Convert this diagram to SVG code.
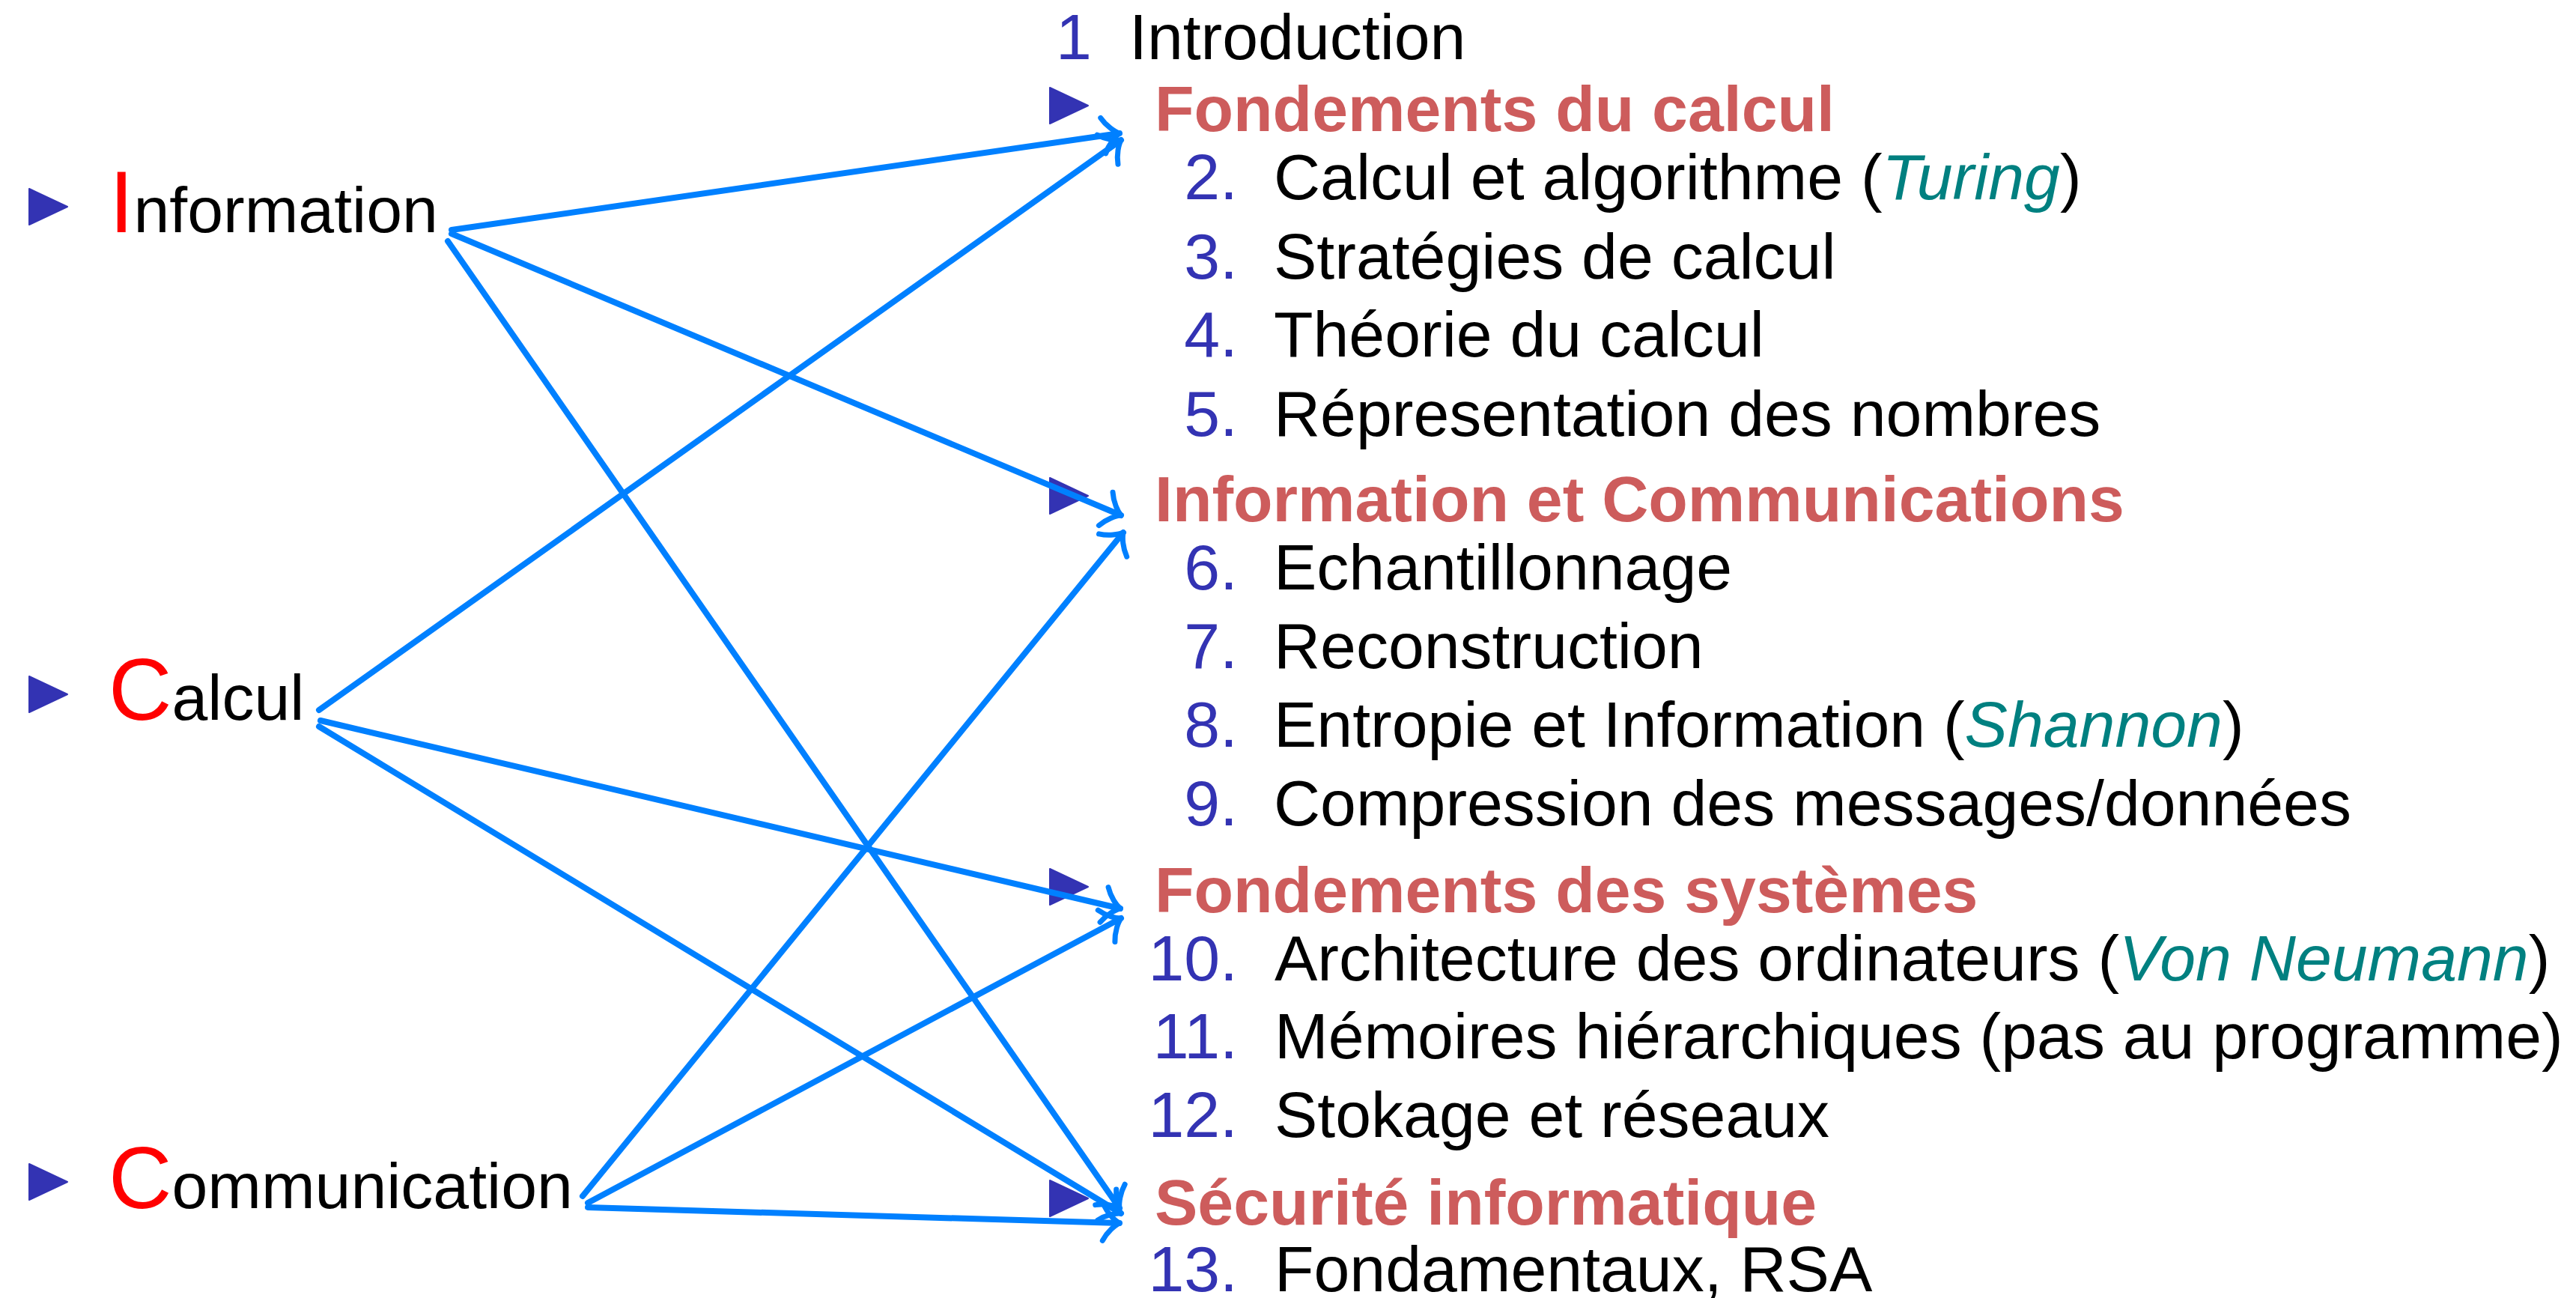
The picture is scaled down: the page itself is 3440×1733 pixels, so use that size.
<svg xmlns="http://www.w3.org/2000/svg" width="3440" height="1733" viewBox="0 0 3440 1733">
<style>
text{font-family:"Liberation Sans",Arial,Helvetica,sans-serif;font-size:86px;fill:#000}
.num{fill:#3333B3;text-anchor:end}
.h{font-weight:bold;fill:#CD5C5C;font-size:86px}
.init{fill:#FF0000;font-size:117px}
.name{fill:#008080;font-style:italic}
.conn{stroke:#0080FF;stroke-width:8;fill:none;stroke-linecap:round;marker-end:url(#to)}
.bul{fill:#3333B3;stroke:#3333B3;stroke-width:2;stroke-linejoin:round}
</style>
<defs>
<path id="tri" class="bul" d="M1,-24 L52,0 L1,24 Z"/>
<marker id="to" markerUnits="userSpaceOnUse" orient="auto" refX="0" refY="0" markerWidth="60" markerHeight="60" viewBox="-30 -30 60 60" overflow="visible">
<path d="M-22,-24 C-16,-12 -6,-3 0,0 C-6,3 -16,12 -22,24" fill="none" stroke="#0080FF" stroke-width="7" stroke-linecap="round" stroke-linejoin="round"/>
</marker>
</defs>

<g id="node-information">
<use href="#tri" x="38" y="276"/>
<text x="146" y="310"><tspan class="init">I</tspan>nformation</text>
</g>
<g id="node-calcul">
<use href="#tri" x="38" y="927"/>
<text x="145" y="961"><tspan class="init">C</tspan>alcul</text>
</g>
<g id="node-communication">
<use href="#tri" x="38" y="1578"/>
<text x="145" y="1613"><tspan class="init">C</tspan>ommunication</text>
</g>

<g id="node-intro">
<text x="1410" y="79" style="fill:#3333B3">1</text>
<text x="1508" y="79">Introduction</text>
</g>

<g id="node-fondements-calcul">
<use href="#tri" x="1401" y="141"/>
<text class="h" x="1542" y="175">Fondements du calcul</text>
<text class="num" x="1653" y="266">2.</text><text x="1701" y="266">Calcul et algorithme (<tspan class="name">Turing</tspan>)</text>
<text class="num" x="1653" y="372">3.</text><text x="1701" y="372">Stratégies de calcul</text>
<text class="num" x="1653" y="476">4.</text><text x="1701" y="476">Théorie du calcul</text>
<text class="num" x="1653" y="582">5.</text><text x="1701" y="582">Répresentation des nombres</text>
</g>

<g id="node-info-comm">
<use href="#tri" x="1401" y="662"/>
<text class="h" x="1542" y="696">Information et Communications</text>
<text class="num" x="1653" y="787">6.</text><text x="1701" y="787">Echantillonnage</text>
<text class="num" x="1653" y="892">7.</text><text x="1701" y="892">Reconstruction</text>
<text class="num" x="1653" y="997">8.</text><text x="1701" y="997">Entropie et Information (<tspan class="name">Shannon</tspan>)</text>
<text class="num" x="1653" y="1102">9.</text><text x="1701" y="1102">Compression des messages/données</text>
</g>

<g id="node-fondements-systemes">
<use href="#tri" x="1401" y="1184"/>
<text class="h" x="1542" y="1218">Fondements des systèmes</text>
<text class="num" x="1653" y="1309">10.</text><text x="1702" y="1309">Architecture des ordinateurs (<tspan class="name">Von Neumann</tspan>)</text>
<text class="num" x="1653" y="1413">11.</text><text x="1702" y="1413">Mémoires hiérarchiques (pas au programme)</text>
<text class="num" x="1653" y="1518">12.</text><text x="1702" y="1518">Stokage et réseaux</text>
</g>

<g id="node-securite">
<use href="#tri" x="1401" y="1600"/>
<text class="h" x="1542" y="1635">Sécurité informatique</text>
<text class="num" x="1653" y="1724">13.</text><text x="1702" y="1724">Fondamentaux, RSA</text>
</g>

<g id="connectors">
<line class="conn" x1="603" y1="307" x2="1495" y2="178"/>
<line class="conn" x1="603" y1="312" x2="1497" y2="688"/>
<line class="conn" x1="598" y1="322" x2="1495" y2="1613"/>
<line class="conn" x1="426" y1="948" x2="1497" y2="187"/>
<line class="conn" x1="428" y1="962" x2="1496" y2="1213"/>
<line class="conn" x1="426" y1="970" x2="1497" y2="1620"/>
<line class="conn" x1="778" y1="1597" x2="1500" y2="711"/>
<line class="conn" x1="785" y1="1606" x2="1497" y2="1226"/>
<line class="conn" x1="785" y1="1612" x2="1495" y2="1633"/>
</g>
</svg>
